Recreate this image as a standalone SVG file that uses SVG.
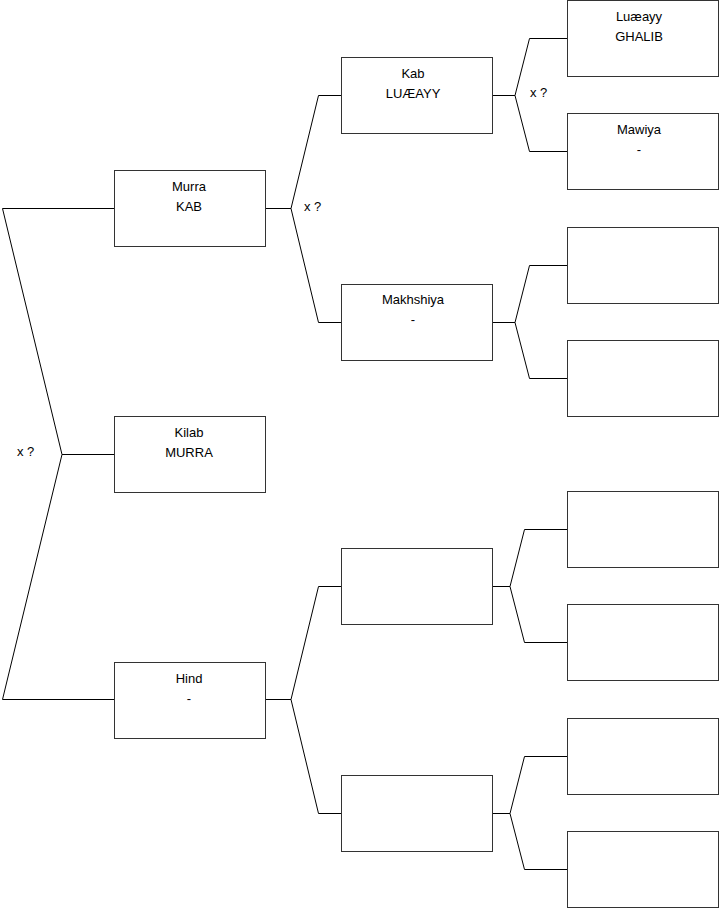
<svg xmlns="http://www.w3.org/2000/svg" width="719" height="908" viewBox="0 0 719 908">
<style>
.box{fill:#fff;stroke:#333;stroke-width:1}
.ln{fill:none;stroke:#000;stroke-width:1}
text{font-family:"Liberation Sans",Arial,sans-serif;font-size:13px;fill:#000}
.c{text-anchor:middle}
</style>
<rect width="719" height="908" fill="#fff"/>
<g id="connectors">
<path class="ln" d="M114 208.5H2.5L62 454.5L2.5 699.5H114M62 454.5H114"/>
<path class="ln" d="M265 208.5H291L318.5 95.5H341M291 208.5L318.5 322.5H341"/>
<path class="ln" d="M265 699.5H291L318.5 586.5H341M291 699.5L318.5 813.5H341"/>
<path class="ln" d="M492 95.5H515L529.5 38.5H567M515 95.5L529.5 151.5H567"/>
<path class="ln" d="M492 322.5H515L529.5 265.5H567M515 322.5L529.5 378.5H567"/>
<path class="ln" d="M492 586.5H510L524.5 529.5H567M510 586.5L524.5 642.5H567"/>
<path class="ln" d="M492 813.5H510L524.5 756.5H567M510 813.5L524.5 869.5H567"/>
<text x="17" y="456">x ?</text>
<text x="304" y="211">x ?</text>
<text x="530" y="97">x ?</text>
</g>
<g id="murra"><rect class="box" x="114.5" y="170.5" width="151" height="76"/><text class="c" x="189" y="191">Murra</text><text class="c" x="189" y="211">KAB</text></g>
<g id="kilab"><rect class="box" x="114.5" y="416.5" width="151" height="76"/><text class="c" x="189" y="437">Kilab</text><text class="c" x="189" y="457">MURRA</text></g>
<g id="hind"><rect class="box" x="114.5" y="662.5" width="151" height="76"/><text class="c" x="189" y="683">Hind</text><text class="c" x="189" y="703">-</text></g>
<g id="kab"><rect class="box" x="341.5" y="57.5" width="151" height="76"/><text class="c" x="413" y="78">Kab</text><text class="c" x="413" y="98">LUÆAYY</text></g>
<g id="makhshiya"><rect class="box" x="341.5" y="284.5" width="151" height="76"/><text class="c" x="413" y="304">Makhshiya</text><text class="c" x="413" y="324">-</text></g>
<g id="hind-a"><rect class="box" x="341.5" y="548.5" width="151" height="76"/></g>
<g id="hind-b"><rect class="box" x="341.5" y="775.5" width="151" height="76"/></g>
<g id="luaeayy"><rect class="box" x="567.5" y="0.5" width="151" height="76"/><text class="c" x="639" y="21">Luæayy</text><text class="c" x="639" y="41">GHALIB</text></g>
<g id="mawiya"><rect class="box" x="567.5" y="113.5" width="151" height="76"/><text class="c" x="639" y="134">Mawiya</text><text class="c" x="639" y="154">-</text></g>
<g id="n3"><rect class="box" x="567.5" y="227.5" width="151" height="76"/></g>
<g id="n4"><rect class="box" x="567.5" y="340.5" width="151" height="76"/></g>
<g id="n5"><rect class="box" x="567.5" y="491.5" width="151" height="76"/></g>
<g id="n6"><rect class="box" x="567.5" y="604.5" width="151" height="76"/></g>
<g id="n7"><rect class="box" x="567.5" y="718.5" width="151" height="76"/></g>
<g id="n8"><rect class="box" x="567.5" y="831.5" width="151" height="76"/></g>
</svg>
